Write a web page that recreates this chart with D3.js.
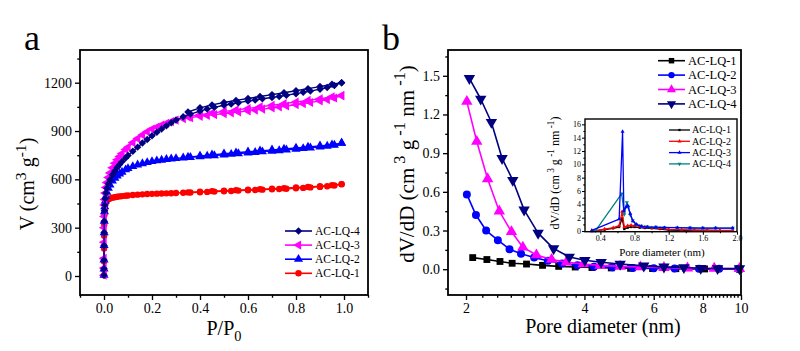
<!DOCTYPE html>
<html><head><meta charset="utf-8">
<script src="https://cdn.jsdelivr.net/npm/d3@7/dist/d3.min.js"></script>
<style>body{margin:0;background:#fff}svg,svg text{font-family:"Liberation Serif","Tinos","DejaVu Serif","Noto Serif","Times New Roman",Times,serif !important}</style>
</head><body><svg id="c" width="800" height="351"></svg>
<script>
// ---------- Panel a: N2 isotherms ----------
const pressure = [0.00001,0.00005,0.0001,0.0003,0.0006,0.001,0.002,0.003,0.005,0.008,0.012,0.018,0.025,0.035,0.045,0.055,0.065,0.075,0.09,0.10,0.12,0.14,0.16,0.18,0.20,0.22,0.24,0.26,0.28,0.30,0.33,0.36,0.40,0.43,0.46,0.50,0.53,0.56,0.60,0.63,0.66,0.70,0.73,0.76,0.80,0.83,0.86,0.90,0.93,0.96,0.99];
const adsLQ1 = [5,40,90,170,250,320,380,410,440,458,468,476,481,486,489,492,494,496,498,500,503,505,507,509,510,511,512,513,514,515,517,518,520,522,524,526,528,530,532,534,536,538,540,542,545,547,550,553,557,562,570];
const adsLQ2 = [5,45,100,190,270,340,400,430,465,495,520,545,565,590,608,622,634,645,660,668,680,690,698,705,711,716,720,724,727,730,734,737,741,745,748,752,756,760,765,768,772,776,779,783,788,792,796,802,807,813,825];
const adsLQ3 = [5,50,110,210,300,370,440,475,515,550,580,612,640,672,700,722,742,760,785,800,828,853,876,896,912,925,937,948,958,968,976,983,991,997,1002,1008,1013,1018,1025,1030,1036,1043,1049,1055,1063,1070,1077,1087,1095,1105,1120];
const adsLQ4 = [5,45,100,190,270,340,405,440,480,515,545,572,598,628,652,673,692,710,733,748,775,800,825,848,870,892,912,932,952,968,988,1005,1024,1036,1047,1060,1068,1076,1086,1093,1100,1108,1115,1122,1132,1140,1148,1160,1170,1182,1200];
const pressureDes = [0.99,0.95,0.90,0.85,0.80,0.75,0.70,0.65,0.60,0.55,0.50,0.45,0.40,0.35];
const desLQ1 = [570,564,558,553,549,545,542,539,536,533,530,527,523,519];
const desLQ2 = [825,815,808,801,795,789,783,777,771,765,759,752,745,738];
const desLQ3 = [1120,1112,1100,1090,1080,1070,1060,1050,1040,1031,1022,1012,1001,988];
const desLQ4 = [1200,1190,1176,1163,1150,1138,1126,1114,1102,1090,1077,1062,1044,1018];
const seriesA = ["AC-LQ-1","AC-LQ-2","AC-LQ-3","AC-LQ-4"];
const xTicksA = [0.0,0.2,0.4,0.6,0.8,1.0];
const yTicksA = [0,300,600,900,1200];

// ---------- Panel b: pore size distribution (2-10 nm) ----------
const dLQ1 = [2.08,2.26,2.44,2.62,2.85,3.13,3.44,3.79,4.18,4.68,5.24,5.96,6.83,8.08,9.91];
const vLQ1 = [0.09,0.075,0.06,0.046,0.04,0.03,0.022,0.017,0.013,0.010,0.007,0.005,0.004,0.002,0.001];
const dLQ2 = [2.01,2.12,2.25,2.41,2.58,2.76,2.98,3.23,3.51,3.84,4.23,4.71,5.31,6.00,6.78,7.82,8.80,9.84];
const vLQ2 = [0.58,0.42,0.30,0.225,0.155,0.12,0.09,0.065,0.045,0.03,0.02,0.015,0.01,0.007,0.005,0.004,0.003,0.003];
const dLQ3 = [2.01,2.13,2.27,2.43,2.61,2.79,3.02,3.30,3.60,3.97,4.38,4.93,5.55,6.37,7.31,8.55,9.91];
const vLQ3 = [1.30,0.99,0.70,0.45,0.29,0.17,0.11,0.075,0.055,0.04,0.03,0.022,0.017,0.012,0.008,0.006,0.004];
const dLQ4 = [2.04,2.18,2.32,2.47,2.63,2.81,3.05,3.34,3.66,4.01,4.41,4.93,5.66,6.37,7.16,7.90,8.72,9.91];
const vLQ4 = [1.48,1.32,1.14,0.86,0.69,0.46,0.28,0.16,0.095,0.07,0.054,0.04,0.026,0.018,0.013,0.008,0.006,0.005];
const xTicksB = [2,4,6,8,10];
const yTicksB = [0.0,0.3,0.6,0.9,1.2,1.5];

// ---------- Inset: micropores (0.2-2 nm) ----------
const inD1 = [0.30,0.35,0.45,0.55,0.62,0.655,0.68,0.72,0.76,0.80,0.86,0.92,1.00,1.10,1.20,1.35,1.50,1.65,1.80,1.95];
const inV1 = [0,0.05,0.2,0.4,0.6,1.9,0.3,0.5,0.6,0.6,0.5,0.45,0.4,0.3,0.15,0.1,0.1,0.08,0.05,0.05];
const inD2 = [0.30,0.35,0.45,0.55,0.62,0.655,0.68,0.72,0.76,0.80,0.86,0.92,1.00,1.10,1.20,1.35,1.50,1.65,1.80,1.95];
const inV2 = [0,0.05,0.3,0.5,0.8,2.9,0.6,0.8,0.85,0.8,0.7,0.6,0.5,0.4,0.25,0.2,0.15,0.12,0.1,0.1];
const inD3 = [0.30,0.62,0.66,0.675,0.70,0.72,0.75,0.78,0.82,0.88,0.95,1.05,1.15,1.30,1.45,1.60,1.75,1.95];
const inV3 = [0.1,1.8,14.9,3.0,3.6,3.8,2.6,1.5,1.0,0.7,0.6,0.55,0.5,0.5,0.45,0.45,0.45,0.45];
const inD4 = [0.34,0.65,0.68,0.71,0.73,0.75,0.78,0.82,0.88,0.95,1.05,1.15,1.30,1.45,1.60,1.75,1.95];
const inV4 = [0.0,5.6,2.5,4.3,3.6,2.4,1.6,1.0,0.75,0.65,0.6,0.55,0.5,0.5,0.45,0.45,0.45];
const xTicksIn = [0.4,0.8,1.2,1.6,2.0];
const yTicksIn = [0,2,4,6,8,10,12,14,16];

const svg = d3.select("#c");

function symPath(type, size, rot) {
  return { d: d3.symbol().type(type).size(size)(), rot: rot || 0 };
}
const shapes = {
  diamond: symPath(d3.symbolSquare, 28, 45),
  left: symPath(d3.symbolTriangle, 36, -90),
  up: symPath(d3.symbolTriangle, 36, 0),
  circle: symPath(d3.symbolCircle, 32, 0),
  square: symPath(d3.symbolSquare, 30, 0),
  down: symPath(d3.symbolTriangle, 36, 180),
  tiny: symPath(d3.symbolSquare, 5, 0),
  tinyTri: symPath(d3.symbolTriangle, 7, 0),
  tinyDown: symPath(d3.symbolTriangle, 7, 180)
};

function drawSeries(g, x, y, xs, ys, color, shape, lw, scale) {
  const pts = xs.map((v, i) => [x(v), y(ys[i])]);
  g.append("path").attr("d", d3.line()(pts)).attr("fill", "none")
    .attr("stroke", color).attr("stroke-width", lw).attr("stroke-linejoin", "round");
  const s = shapes[shape];
  g.selectAll(null).data(pts).join("path").attr("d", s.d)
    .attr("transform", d => `translate(${d[0]},${d[1]}) rotate(${s.rot}) scale(${scale || 1})`)
    .attr("fill", color);
}

function drawFrame(g, x, y, o) {
  const [x0, x1] = x.range(), [y0, y1] = y.range();
  g.append("g").attr("transform", `translate(0,${y0})`)
    .call(d3.axisBottom(x).tickValues(o.xMajor).tickSize(o.tick).tickPadding(o.pad).tickFormat(o.xFmt));
  g.append("g").attr("transform", `translate(0,${y0})`)
    .call(d3.axisBottom(x).tickValues(o.xMinor).tickSize(o.tick * 0.55).tickFormat(""));
  g.append("g").attr("transform", `translate(${x0},0)`)
    .call(d3.axisLeft(y).tickValues(o.yMajor).tickSize(o.tick).tickPadding(o.pad).tickFormat(o.yFmt));
  g.append("g").attr("transform", `translate(${x0},0)`)
    .call(d3.axisLeft(y).tickValues(o.yMinor).tickSize(o.tick * 0.55).tickFormat(""));
  g.selectAll(".domain").remove();
  g.selectAll("g").attr("font-family", null);
  g.selectAll(".tick line").attr("stroke", "#000").attr("stroke-width", o.lw * 0.75);
  g.selectAll(".tick text").attr("font-size", o.fs).attr("fill", "#000");
  g.append("rect").attr("x", x0).attr("y", y1).attr("width", x1 - x0).attr("height", y0 - y1)
    .attr("fill", "none").attr("stroke", "#000").attr("stroke-width", o.lw);
}

function richText(g, x, y, parts, fs, rotate) {
  const t = g.append("text").attr("transform", `translate(${x},${y}) rotate(${rotate || 0})`)
    .attr("text-anchor", "middle").attr("font-size", fs)
    .attr("fill", "#000").attr("xml:space", "preserve");
  let shift = 0;
  parts.forEach(p => {
    const ts = t.append("tspan").text(p.t);
    let target = 0, size = fs;
    if (p.sup) { target = -0.42 * fs; size = fs * 0.78; }
    if (p.sub) { target = 0.32 * fs; size = fs * 0.72; }
    ts.attr("font-size", size);
    if (target !== shift) { ts.attr("dy", target - shift); shift = target; }
  });
  return t;
}

// ================= Panel a =================
const gA = svg.append("g");
const xA = d3.scaleLinear().domain([-0.1, 1.1]).range([80, 368]);
const yA = d3.scaleLinear().domain([-118, 1403]).range([295, 50]);
const colA = { "AC-LQ-1": "#ff0000", "AC-LQ-2": "#0000ff", "AC-LQ-3": "#ff00ff", "AC-LQ-4": "#000080" };
const shpA = { "AC-LQ-1": "circle", "AC-LQ-2": "up", "AC-LQ-3": "left", "AC-LQ-4": "diamond" };
const adsA = { "AC-LQ-1": adsLQ1, "AC-LQ-2": adsLQ2, "AC-LQ-3": adsLQ3, "AC-LQ-4": adsLQ4 };
const desA = { "AC-LQ-1": desLQ1, "AC-LQ-2": desLQ2, "AC-LQ-3": desLQ3, "AC-LQ-4": desLQ4 };
seriesA.forEach(s => {
  drawSeries(gA, xA, yA, pressureDes, desA[s], colA[s], shpA[s], 1.4);
  drawSeries(gA, xA, yA, pressure, adsA[s], colA[s], shpA[s], 1.4);
});
drawFrame(gA, xA, yA, {
  xMajor: xTicksA, xMinor: [-0.1, 0.1, 0.3, 0.5, 0.7, 0.9, 1.1], xFmt: d3.format(".1f"),
  yMajor: yTicksA, yMinor: [150, 450, 750, 1050, 1350], yFmt: d3.format("d"),
  tick: 5, pad: 3, fs: 14, lw: 1.8
});
["AC-LQ-4", "AC-LQ-3", "AC-LQ-2", "AC-LQ-1"].forEach((s, i) => {
  const yy = 231 + i * 14.1;
  gA.append("line").attr("x1", 285).attr("x2", 312).attr("y1", yy).attr("y2", yy)
    .attr("stroke", colA[s]).attr("stroke-width", 1.6);
  const sh = shapes[shpA[s]];
  gA.append("path").attr("d", sh.d).attr("transform", `translate(298.5,${yy}) rotate(${sh.rot})`).attr("fill", colA[s]);
  gA.append("text").attr("x", 315).attr("y", yy + 4).attr("font-size", 11.5).text(s);
});
richText(gA, 34, 184, [{ t: "V (cm" }, { t: "3", sup: 1 }, { t: " g" }, { t: "-1", sup: 1 }, { t: ")" }], 20, -90);
richText(gA, 224, 335, [{ t: "P/P" }, { t: "0", sub: 1 }], 20, 0);
gA.append("text").attr("x", 24).attr("y", 50).attr("font-size", 36).text("a");

// ================= Panel b =================
const gB = svg.append("g");
const xB = d3.scaleLog().domain([1.8, 10]).range([448, 741]);
const yB = d3.scaleLinear().domain([-0.2, 1.7]).range([295, 50]);
const colB = { "AC-LQ-1": "#000000", "AC-LQ-2": "#0000ff", "AC-LQ-3": "#ff00ff", "AC-LQ-4": "#000080" };
const shpB = { "AC-LQ-1": "square", "AC-LQ-2": "circle", "AC-LQ-3": "up", "AC-LQ-4": "down" };
const dataB = { "AC-LQ-1": [dLQ1, vLQ1], "AC-LQ-2": [dLQ2, vLQ2], "AC-LQ-3": [dLQ3, vLQ3], "AC-LQ-4": [dLQ4, vLQ4] };
seriesA.forEach(s => drawSeries(gB, xB, yB, dataB[s][0], dataB[s][1], colB[s], shpB[s], 1.6, 1.25));
const minorB = d3.range(2.2, 9.95, 0.2).map(v => +v.toFixed(1)).filter(v => xTicksB.indexOf(v) < 0);
drawFrame(gB, xB, yB, {
  xMajor: xTicksB, xMinor: minorB, xFmt: d3.format("d"),
  yMajor: yTicksB, yMinor: [-0.15, 0.15, 0.45, 0.75, 1.05, 1.35, 1.65], yFmt: d3.format(".1f"),
  tick: 5, pad: 3, fs: 14, lw: 1.8
});
seriesA.forEach((s, i) => {
  const yy = 60.7 + i * 14.4;
  gB.append("line").attr("x1", 658).attr("x2", 685).attr("y1", yy).attr("y2", yy)
    .attr("stroke", colB[s]).attr("stroke-width", 1.6);
  const sh = shapes[shpB[s]];
  gB.append("path").attr("d", sh.d).attr("transform", `translate(671.5,${yy}) rotate(${sh.rot})`).attr("fill", colB[s]);
  gB.append("text").attr("x", 688).attr("y", yy + 4).attr("font-size", 12.5).text(s);
});
richText(gB, 414, 164, [{ t: "dV/dD (cm" }, { t: " 3", sup: 1 }, { t: " g" }, { t: " -1", sup: 1 }, { t: " nm" }, { t: " -1", sup: 1 }, { t: ")" }], 21, -90);
richText(gB, 603, 333, [{ t: "Pore diameter (nm)" }], 20, 0);
gB.append("text").attr("x", 382).attr("y", 50).attr("font-size", 36).text("b");

// ================= Inset =================
const gI = svg.append("g");
const xI = d3.scaleLinear().domain([0.22, 2.0]).range([585, 737]);
const yI = d3.scaleLinear().domain([-0.1, 16.8]).range([231.7, 119]);
gI.append("rect").attr("x", 585).attr("y", 119).attr("width", 152).attr("height", 112.7).attr("fill", "#fff");
const colI = { "AC-LQ-1": "#000000", "AC-LQ-2": "#ff0000", "AC-LQ-3": "#0000ff", "AC-LQ-4": "#008080" };
const shpI = { "AC-LQ-1": "tiny", "AC-LQ-2": "tinyTri", "AC-LQ-3": "tinyTri", "AC-LQ-4": "tinyDown" };
const dataI = { "AC-LQ-1": [inD1, inV1], "AC-LQ-2": [inD2, inV2], "AC-LQ-3": [inD3, inV3], "AC-LQ-4": [inD4, inV4] };
["AC-LQ-1", "AC-LQ-2", "AC-LQ-4", "AC-LQ-3"].forEach(s => drawSeries(gI, xI, yI, dataI[s][0], dataI[s][1], colI[s], shpI[s], 1.3));
drawFrame(gI, xI, yI, {
  xMajor: xTicksIn, xMinor: [0.6, 1.0, 1.4, 1.8], xFmt: d3.format(".1f"),
  yMajor: yTicksIn, yMinor: [1, 3, 5, 7, 9, 11, 13, 15], yFmt: d3.format("d"),
  tick: 3, pad: 1, fs: 8, lw: 1.4
});
seriesA.forEach((s, i) => {
  const yy = 130 + i * 11.3;
  gI.append("line").attr("x1", 669).attr("x2", 690).attr("y1", yy).attr("y2", yy)
    .attr("stroke", colI[s]).attr("stroke-width", 1.3);
  const sh = shapes[shpI[s]];
  gI.append("path").attr("d", sh.d).attr("transform", `translate(679.5,${yy}) rotate(${sh.rot})`).attr("fill", colI[s]);
  gI.append("text").attr("x", 692).attr("y", yy + 3.3).attr("font-size", 10).text(s);
});
richText(gI, 559, 173, [{ t: "dV/dD (cm" }, { t: " 3", sup: 1 }, { t: " g" }, { t: " -1", sup: 1 }, { t: " nm" }, { t: " -1", sup: 1 }, { t: ")" }], 12, -90);
richText(gI, 662, 255.5, [{ t: "Pore diameter (nm)" }], 11, 0);
</script></body></html>
